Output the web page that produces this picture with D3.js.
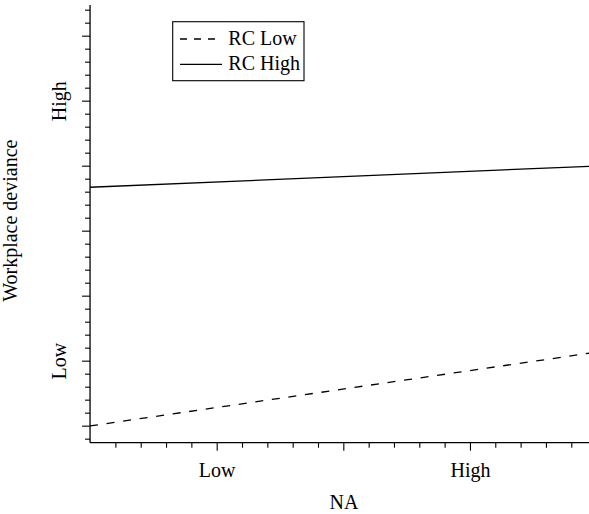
<!DOCTYPE html>
<html>
<head>
<meta charset="utf-8">
<script src="https://cdn.jsdelivr.net/npm/d3@7"></script>
<style>
  body { margin: 0; background: #fff; }
  svg text { font-family: "Liberation Serif", "Times New Roman", serif; }
</style>
</head>
<body>
<div id="chart"></div>
<script>
// NA levels (x) at the two ends of the plotted range
const naValues = [0, 3.94];
// workplace deviance per RC group
const rcLow = [0.498, 1.057];
const rcHigh = [2.334, 2.495];
const seriesNames = ["RC Low", "RC High"];
// tick labels
const xTickLabels = { 1: "Low", 3: "High" };
const yTickLabels = { 1: "Low", 3: "High" };

const width = 589, height = 514;
const margin = { top: 5, right: 0, bottom: 71.3, left: 90.7 };

const svg = d3.select("#chart").append("svg")
  .attr("width", width)
  .attr("height", height);

const x = d3.scaleLinear()
  .domain([0, 3.94])
  .range([margin.left - 0.65, width]);

const y = d3.scaleLinear()
  .domain([0.369, 3.736])
  .range([height - margin.bottom, margin.top]);

const line = d3.line()
  .x(function(d) { return x(d[0]); })
  .y(function(d) { return y(d[1]); });

const dataLow = naValues.map(function(v, i) { return [v, rcLow[i]]; });
const dataHigh = naValues.map(function(v, i) { return [v, rcHigh[i]]; });

svg.append("path")
  .datum(dataLow)
  .attr("d", line)
  .attr("fill", "none")
  .attr("stroke", "#000")
  .attr("stroke-width", 1.3)
  .attr("stroke-dasharray", "8,8.7");

svg.append("path")
  .datum(dataHigh)
  .attr("d", line)
  .attr("fill", "none")
  .attr("stroke", "#000")
  .attr("stroke-width", 1.3);

// x axis
const xTicks = d3.range(1, 20).map(function(i) { return +(i * 0.2).toFixed(1); });
const xAxis = svg.append("g")
  .attr("transform", "translate(0," + y(0.369) + ")")
  .call(d3.axisBottom(x).tickValues(xTicks).tickSize(5)
    .tickFormat(function(d) { return xTickLabels[d] || ""; }));
xAxis.select(".domain").attr("d", "M" + x(0) + ",0H" + width).attr("stroke-width", 1.3);
xAxis.selectAll(".tick line")
  .attr("y2", function(d) { return Number.isInteger(d) ? 8 : 5; })
  .attr("stroke-width", 1.1);
xAxis.selectAll(".tick text")
  .attr("y", 34.6).attr("dy", null)
  .attr("font-size", 20)
  .attr("font-family", "Liberation Serif")
  .attr("fill", "#000");

// y axis
const yTicks = d3.range(4, 38).map(function(i) { return +(i * 0.1).toFixed(1); });
const yAxis = svg.append("g")
  .attr("transform", "translate(" + x(0) + ",0)")
  .call(d3.axisLeft(y).tickValues(yTicks).tickSize(5)
    .tickFormat(function(d) { return yTickLabels[d] || ""; }));
yAxis.select(".domain").attr("d", "M0," + y(0.369) + "V" + y(3.736)).attr("stroke-width", 1.3);
yAxis.selectAll(".tick line")
  .attr("x2", function(d) { return Math.round(d * 10) % 5 === 0 ? -8 : -5; })
  .attr("stroke-width", 1.1);
yAxis.selectAll(".tick text")
  .attr("x", null).attr("dy", null)
  .attr("transform", "translate(-24.5,0) rotate(-90)")
  .attr("text-anchor", "middle")
  .attr("font-size", 20)
  .attr("font-family", "Liberation Serif")
  .attr("fill", "#000");

// axis titles
svg.append("text")
  .attr("x", 344)
  .attr("y", 509.3)
  .attr("text-anchor", "middle")
  .attr("font-size", 20)
  .text("NA");

svg.append("text")
  .attr("transform", "translate(17,220.7) rotate(-90)")
  .attr("text-anchor", "middle")
  .attr("font-size", 20)
  .text("Workplace deviance");

// legend
const leg = svg.append("g");
leg.append("rect")
  .attr("x", 172.7).attr("y", 21.7)
  .attr("width", 131.3).attr("height", 59)
  .attr("fill", "#fff")
  .attr("stroke", "#000")
  .attr("stroke-width", 1.1);

seriesNames.forEach(function(name, i) {
  const ly = 39 + i * 25.3;
  leg.append("line")
    .attr("x1", 180).attr("x2", 222)
    .attr("y1", ly).attr("y2", ly)
    .attr("stroke", "#000")
    .attr("stroke-width", 1.3)
    .attr("stroke-dasharray", i === 0 ? "7,7" : null);
  leg.append("text")
    .attr("x", 228.3)
    .attr("y", ly + 5.6)
    .attr("font-size", 20)
    .text(name);
});
</script>
</body>
</html>
